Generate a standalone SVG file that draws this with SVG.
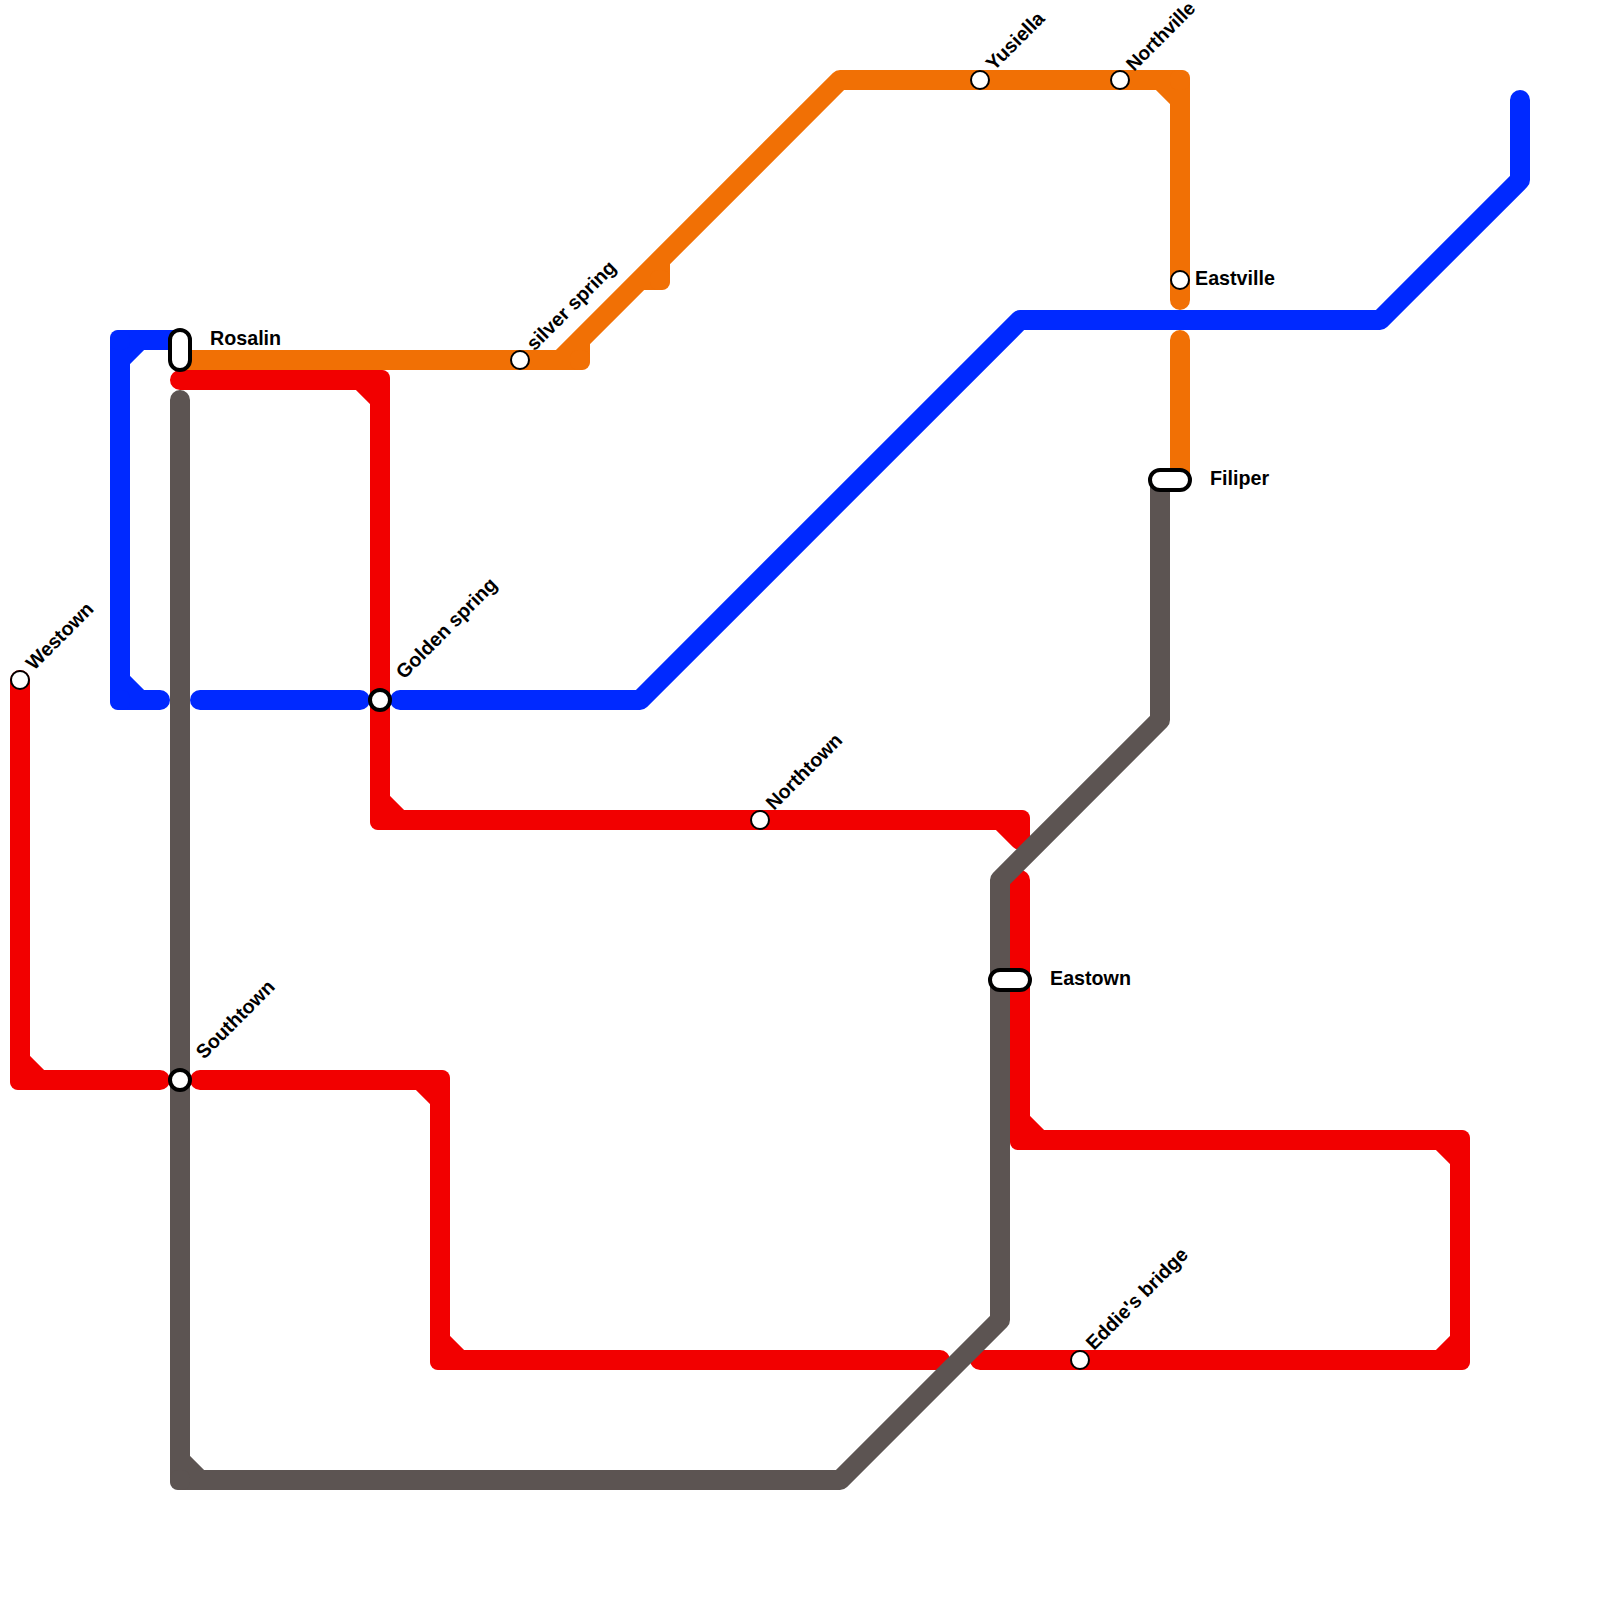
<svg xmlns="http://www.w3.org/2000/svg" width="1600" height="1600" viewBox="0 0 1600 1600">
<style>
.l{fill:none;stroke-width:20;stroke-linecap:round;stroke-linejoin:round}
.red{stroke:#f20000}.org{stroke:#f17005}.blu{stroke:#0029ff}.gry{stroke:#5c5452}
.cr{fill:#f20000}.co{fill:#f17005}.cb{fill:#0029ff}.cg{fill:#5c5452}
.st{fill:#fff;stroke:#000;stroke-width:2}
.ic{fill:#fff;stroke:#000;stroke-width:4}
text{font-family:"Liberation Sans",Arial,sans-serif;font-weight:700;font-size:19.7px;fill:#000}
</style>
<defs><rect id="k" x="-10" y="-10" width="20" height="20" rx="8"/></defs>
<rect width="1600" height="1600" fill="#fff"/>
<g id="connectors">
<path class="l red" d="M180 380H380V820H1020V840M360 380L380 400M380 800L400 820M1000 820L1020 840"/>
<path class="l red" d="M20 680V1080H160M20 1060L40 1080"/>
<path class="l red" d="M200 1080H440V1360H940M420 1080L440 1100M440 1340L460 1360"/>
<path class="l red" d="M1020 880V1140H1460V1360H980M1020 1120L1040 1140M1440 1140L1460 1160M1460 1340L1440 1360"/>
<g class="cr"><use href="#k" x="380" y="380"/><use href="#k" x="380" y="820"/><use href="#k" x="1020" y="820"/><use href="#k" x="20" y="1080"/><use href="#k" x="440" y="1080"/><use href="#k" x="440" y="1360"/><use href="#k" x="1020" y="1140"/><use href="#k" x="1460" y="1140"/><use href="#k" x="1460" y="1360"/></g>
<path class="l org" d="M180 360H580V340L660 260V280H640M560 360L840 80H1180V300M1160 80L1180 100"/>
<path class="l org" d="M1180 340V480"/>
<g class="co"><use href="#k" x="580" y="360"/><use href="#k" x="660" y="280"/><use href="#k" x="1180" y="80"/></g>
<path class="l blu" d="M1520 100V180L1380 320H1020L640 700H400"/>
<path class="l blu" d="M360 700H200"/>
<path class="l blu" d="M160 700H120V340H180M120 360L140 340M120 680L140 700"/>
<g class="cb"><use href="#k" x="120" y="340"/><use href="#k" x="120" y="700"/></g>
<path class="l gry" d="M180 400V1480H840L1000 1320V880L1160 720V480M180 1460L200 1480"/>
<g class="cg"><use href="#k" x="180" y="1480"/></g>
</g>
<g id="rosalin"><rect class="ic" x="170" y="330" width="20" height="40" rx="10"/><text x="210" y="344.5">Rosalin</text></g>
<g id="silver-spring"><circle class="st" cx="520" cy="360" r="9"/><text transform="translate(534.5 351.5) rotate(-45)">silver spring</text></g>
<g id="yusiella"><circle class="st" cx="980" cy="80" r="9"/><text transform="translate(994 71.5) rotate(-45)">Yusiella</text></g>
<g id="northville"><circle class="st" cx="1120" cy="80" r="9"/><text transform="translate(1134 72) rotate(-45)" style="font-size:19.2px">Northville</text></g>
<g id="eastville"><circle class="st" cx="1180" cy="280" r="9"/><text x="1195" y="284.5">Eastville</text></g>
<g id="filiper"><rect class="ic" x="1150" y="470" width="40" height="20" rx="10"/><text x="1210" y="484.5">Filiper</text></g>
<g id="golden-spring"><circle class="ic" cx="380" cy="700" r="10"/><text transform="translate(404 680) rotate(-45)">Golden spring</text></g>
<g id="westown"><circle class="st" cx="20" cy="680" r="9"/><text transform="translate(34 671) rotate(-45)">Westown</text></g>
<g id="northtown"><circle class="st" cx="760" cy="820" r="9"/><text transform="translate(774 811) rotate(-45)">Northtown</text></g>
<g id="eastown"><rect class="ic" x="990" y="970" width="40" height="20" rx="10"/><text x="1050" y="984.5">Eastown</text></g>
<g id="southtown"><circle class="ic" cx="180" cy="1080" r="10"/><text transform="translate(204 1060) rotate(-45)">Southtown</text></g>
<g id="eddies-bridge"><circle class="st" cx="1080" cy="1360" r="9"/><text transform="translate(1094 1351) rotate(-45)">Eddie's bridge</text></g>
</svg>
